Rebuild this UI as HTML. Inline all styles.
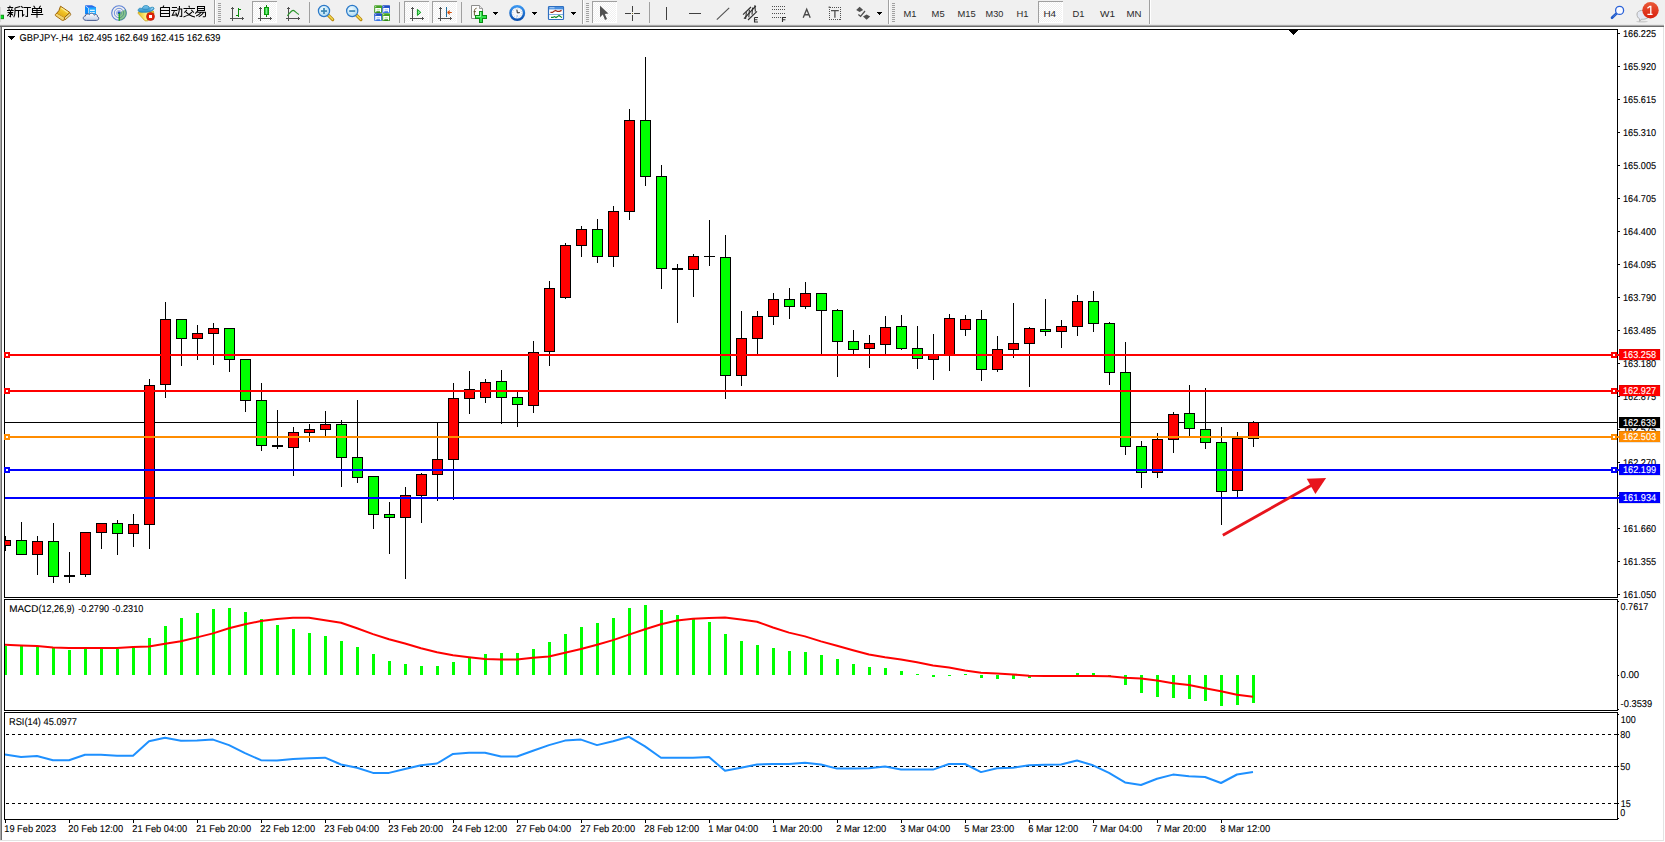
<!DOCTYPE html>
<html><head><meta charset="utf-8"><title>GBPJPY H4</title>
<style>
html,body{margin:0;padding:0;background:#fff;overflow:hidden}
body{width:1665px;height:842px;font-family:"Liberation Sans",sans-serif}
svg{display:block}
</style></head><body>
<svg width="1665" height="842" viewBox="0 0 1665 842">
<g shape-rendering="crispEdges">
<rect x="0" y="0" width="1665" height="24" fill="#f0f0f0"/>
<rect x="0" y="24" width="1664" height="1" fill="#e6e6e6"/>
<rect x="0" y="25" width="1664" height="1" fill="#a9a9a9"/>
<rect x="0" y="26" width="1664" height="1" fill="#6b6b6b"/>
<rect x="0" y="27" width="1" height="813" fill="#a8a8a8"/>
<rect x="1" y="27" width="1" height="813" fill="#6c6c6c"/>
<rect x="0" y="840" width="1664" height="1" fill="#e3e3e3"/>
<rect x="1663" y="27" width="1" height="814" fill="#e3e3e3"/>
<rect x="4" y="29" width="1" height="569" fill="#000"/>
<rect x="4" y="599" width="1" height="112" fill="#000"/>
<rect x="4" y="712" width="1" height="108" fill="#000"/>
<rect x="1617" y="29" width="1" height="569" fill="#000"/>
<rect x="1617" y="599" width="1" height="112" fill="#000"/>
<rect x="1617" y="712" width="1" height="108" fill="#000"/>
<rect x="4" y="29" width="1614" height="1" fill="#000"/>
<rect x="4" y="597" width="1614" height="1" fill="#000"/>
<rect x="4" y="599" width="1614" height="1" fill="#000"/>
<rect x="4" y="710" width="1614" height="1" fill="#000"/>
<rect x="4" y="712" width="1614" height="1" fill="#000"/>
<rect x="4" y="819" width="1614" height="1" fill="#000"/>
<rect x="5" y="422" width="1612" height="1" fill="#000"/>
<rect x="5" y="536" width="1" height="15" fill="#000"/>
<rect x="5" y="540" width="6" height="6" fill="#000"/>
<rect x="5" y="541" width="5" height="4" fill="#ff0000"/>
<rect x="21" y="522" width="1" height="33" fill="#000"/>
<rect x="16" y="540" width="11" height="15" fill="#000"/>
<rect x="17" y="541" width="9" height="13" fill="#00ff00"/>
<rect x="37" y="536" width="1" height="39" fill="#000"/>
<rect x="32" y="541" width="11" height="14" fill="#000"/>
<rect x="33" y="542" width="9" height="12" fill="#ff0000"/>
<rect x="53" y="523" width="1" height="60" fill="#000"/>
<rect x="48" y="541" width="11" height="36" fill="#000"/>
<rect x="49" y="542" width="9" height="34" fill="#00ff00"/>
<rect x="69" y="552" width="1" height="31" fill="#000"/>
<rect x="64" y="575" width="11" height="2" fill="#000"/>
<rect x="85" y="532" width="1" height="45" fill="#000"/>
<rect x="80" y="532" width="11" height="43" fill="#000"/>
<rect x="81" y="533" width="9" height="41" fill="#ff0000"/>
<rect x="101" y="523" width="1" height="26" fill="#000"/>
<rect x="96" y="523" width="11" height="10" fill="#000"/>
<rect x="97" y="524" width="9" height="8" fill="#ff0000"/>
<rect x="117" y="520" width="1" height="35" fill="#000"/>
<rect x="112" y="523" width="11" height="11" fill="#000"/>
<rect x="113" y="524" width="9" height="9" fill="#00ff00"/>
<rect x="133" y="514" width="1" height="33" fill="#000"/>
<rect x="128" y="524" width="11" height="10" fill="#000"/>
<rect x="129" y="525" width="9" height="8" fill="#ff0000"/>
<rect x="149" y="379" width="1" height="170" fill="#000"/>
<rect x="144" y="385" width="11" height="140" fill="#000"/>
<rect x="145" y="386" width="9" height="138" fill="#ff0000"/>
<rect x="165" y="302" width="1" height="96" fill="#000"/>
<rect x="160" y="319" width="11" height="66" fill="#000"/>
<rect x="161" y="320" width="9" height="64" fill="#ff0000"/>
<rect x="181" y="319" width="1" height="47" fill="#000"/>
<rect x="176" y="319" width="11" height="20" fill="#000"/>
<rect x="177" y="320" width="9" height="18" fill="#00ff00"/>
<rect x="197" y="325" width="1" height="35" fill="#000"/>
<rect x="192" y="333" width="11" height="6" fill="#000"/>
<rect x="193" y="334" width="9" height="4" fill="#ff0000"/>
<rect x="213" y="323" width="1" height="42" fill="#000"/>
<rect x="208" y="328" width="11" height="6" fill="#000"/>
<rect x="209" y="329" width="9" height="4" fill="#ff0000"/>
<rect x="229" y="328" width="1" height="44" fill="#000"/>
<rect x="224" y="328" width="11" height="32" fill="#000"/>
<rect x="225" y="329" width="9" height="30" fill="#00ff00"/>
<rect x="245" y="359" width="1" height="53" fill="#000"/>
<rect x="240" y="359" width="11" height="42" fill="#000"/>
<rect x="241" y="360" width="9" height="40" fill="#00ff00"/>
<rect x="261" y="383" width="1" height="68" fill="#000"/>
<rect x="256" y="400" width="11" height="46" fill="#000"/>
<rect x="257" y="401" width="9" height="44" fill="#00ff00"/>
<rect x="277" y="410" width="1" height="39" fill="#000"/>
<rect x="272" y="445" width="11" height="2" fill="#000"/>
<rect x="293" y="427" width="1" height="49" fill="#000"/>
<rect x="288" y="432" width="11" height="16" fill="#000"/>
<rect x="289" y="433" width="9" height="14" fill="#ff0000"/>
<rect x="309" y="424" width="1" height="18" fill="#000"/>
<rect x="304" y="429" width="11" height="4" fill="#000"/>
<rect x="305" y="430" width="9" height="2" fill="#ff0000"/>
<rect x="325" y="411" width="1" height="25" fill="#000"/>
<rect x="320" y="424" width="11" height="6" fill="#000"/>
<rect x="321" y="425" width="9" height="4" fill="#ff0000"/>
<rect x="341" y="420" width="1" height="67" fill="#000"/>
<rect x="336" y="424" width="11" height="34" fill="#000"/>
<rect x="337" y="425" width="9" height="32" fill="#00ff00"/>
<rect x="357" y="400" width="1" height="83" fill="#000"/>
<rect x="352" y="457" width="11" height="21" fill="#000"/>
<rect x="353" y="458" width="9" height="19" fill="#00ff00"/>
<rect x="373" y="476" width="1" height="53" fill="#000"/>
<rect x="368" y="476" width="11" height="39" fill="#000"/>
<rect x="369" y="477" width="9" height="37" fill="#00ff00"/>
<rect x="389" y="502" width="1" height="52" fill="#000"/>
<rect x="384" y="514" width="11" height="4" fill="#000"/>
<rect x="385" y="515" width="9" height="2" fill="#00ff00"/>
<rect x="405" y="487" width="1" height="92" fill="#000"/>
<rect x="400" y="495" width="11" height="23" fill="#000"/>
<rect x="401" y="496" width="9" height="21" fill="#ff0000"/>
<rect x="421" y="473" width="1" height="50" fill="#000"/>
<rect x="416" y="474" width="11" height="22" fill="#000"/>
<rect x="417" y="475" width="9" height="20" fill="#ff0000"/>
<rect x="437" y="423" width="1" height="78" fill="#000"/>
<rect x="432" y="459" width="11" height="16" fill="#000"/>
<rect x="433" y="460" width="9" height="14" fill="#ff0000"/>
<rect x="453" y="383" width="1" height="117" fill="#000"/>
<rect x="448" y="398" width="11" height="62" fill="#000"/>
<rect x="449" y="399" width="9" height="60" fill="#ff0000"/>
<rect x="469" y="371" width="1" height="43" fill="#000"/>
<rect x="464" y="389" width="11" height="10" fill="#000"/>
<rect x="465" y="390" width="9" height="8" fill="#ff0000"/>
<rect x="485" y="379" width="1" height="24" fill="#000"/>
<rect x="480" y="382" width="11" height="16" fill="#000"/>
<rect x="481" y="383" width="9" height="14" fill="#ff0000"/>
<rect x="501" y="370" width="1" height="54" fill="#000"/>
<rect x="496" y="381" width="11" height="17" fill="#000"/>
<rect x="497" y="382" width="9" height="15" fill="#00ff00"/>
<rect x="517" y="392" width="1" height="35" fill="#000"/>
<rect x="512" y="397" width="11" height="8" fill="#000"/>
<rect x="513" y="398" width="9" height="6" fill="#00ff00"/>
<rect x="533" y="341" width="1" height="72" fill="#000"/>
<rect x="528" y="352" width="11" height="54" fill="#000"/>
<rect x="529" y="353" width="9" height="52" fill="#ff0000"/>
<rect x="549" y="281" width="1" height="85" fill="#000"/>
<rect x="544" y="288" width="11" height="64" fill="#000"/>
<rect x="545" y="289" width="9" height="62" fill="#ff0000"/>
<rect x="565" y="243" width="1" height="56" fill="#000"/>
<rect x="560" y="245" width="11" height="53" fill="#000"/>
<rect x="561" y="246" width="9" height="51" fill="#ff0000"/>
<rect x="581" y="226" width="1" height="31" fill="#000"/>
<rect x="576" y="229" width="11" height="17" fill="#000"/>
<rect x="577" y="230" width="9" height="15" fill="#ff0000"/>
<rect x="597" y="219" width="1" height="44" fill="#000"/>
<rect x="592" y="229" width="11" height="28" fill="#000"/>
<rect x="593" y="230" width="9" height="26" fill="#00ff00"/>
<rect x="613" y="206" width="1" height="61" fill="#000"/>
<rect x="608" y="211" width="11" height="46" fill="#000"/>
<rect x="609" y="212" width="9" height="44" fill="#ff0000"/>
<rect x="629" y="109" width="1" height="111" fill="#000"/>
<rect x="624" y="120" width="11" height="92" fill="#000"/>
<rect x="625" y="121" width="9" height="90" fill="#ff0000"/>
<rect x="645" y="57" width="1" height="129" fill="#000"/>
<rect x="640" y="120" width="11" height="57" fill="#000"/>
<rect x="641" y="121" width="9" height="55" fill="#00ff00"/>
<rect x="661" y="165" width="1" height="124" fill="#000"/>
<rect x="656" y="176" width="11" height="93" fill="#000"/>
<rect x="657" y="177" width="9" height="91" fill="#00ff00"/>
<rect x="677" y="264" width="1" height="59" fill="#000"/>
<rect x="672" y="268" width="11" height="2" fill="#000"/>
<rect x="693" y="254" width="1" height="43" fill="#000"/>
<rect x="688" y="256" width="11" height="14" fill="#000"/>
<rect x="689" y="257" width="9" height="12" fill="#ff0000"/>
<rect x="709" y="220" width="1" height="46" fill="#000"/>
<rect x="704" y="256" width="11" height="1" fill="#000"/>
<rect x="725" y="235" width="1" height="164" fill="#000"/>
<rect x="720" y="257" width="11" height="119" fill="#000"/>
<rect x="721" y="258" width="9" height="117" fill="#00ff00"/>
<rect x="741" y="311" width="1" height="75" fill="#000"/>
<rect x="736" y="338" width="11" height="38" fill="#000"/>
<rect x="737" y="339" width="9" height="36" fill="#ff0000"/>
<rect x="757" y="311" width="1" height="43" fill="#000"/>
<rect x="752" y="316" width="11" height="23" fill="#000"/>
<rect x="753" y="317" width="9" height="21" fill="#ff0000"/>
<rect x="773" y="293" width="1" height="32" fill="#000"/>
<rect x="768" y="299" width="11" height="18" fill="#000"/>
<rect x="769" y="300" width="9" height="16" fill="#ff0000"/>
<rect x="789" y="288" width="1" height="31" fill="#000"/>
<rect x="784" y="299" width="11" height="8" fill="#000"/>
<rect x="785" y="300" width="9" height="6" fill="#00ff00"/>
<rect x="805" y="282" width="1" height="27" fill="#000"/>
<rect x="800" y="293" width="11" height="14" fill="#000"/>
<rect x="801" y="294" width="9" height="12" fill="#ff0000"/>
<rect x="821" y="293" width="1" height="63" fill="#000"/>
<rect x="816" y="293" width="11" height="18" fill="#000"/>
<rect x="817" y="294" width="9" height="16" fill="#00ff00"/>
<rect x="837" y="309" width="1" height="68" fill="#000"/>
<rect x="832" y="310" width="11" height="32" fill="#000"/>
<rect x="833" y="311" width="9" height="30" fill="#00ff00"/>
<rect x="853" y="330" width="1" height="26" fill="#000"/>
<rect x="848" y="341" width="11" height="9" fill="#000"/>
<rect x="849" y="342" width="9" height="7" fill="#00ff00"/>
<rect x="869" y="335" width="1" height="33" fill="#000"/>
<rect x="864" y="343" width="11" height="6" fill="#000"/>
<rect x="865" y="344" width="9" height="4" fill="#ff0000"/>
<rect x="885" y="316" width="1" height="40" fill="#000"/>
<rect x="880" y="327" width="11" height="18" fill="#000"/>
<rect x="881" y="328" width="9" height="16" fill="#ff0000"/>
<rect x="901" y="315" width="1" height="35" fill="#000"/>
<rect x="896" y="326" width="11" height="23" fill="#000"/>
<rect x="897" y="327" width="9" height="21" fill="#00ff00"/>
<rect x="917" y="326" width="1" height="43" fill="#000"/>
<rect x="912" y="348" width="11" height="11" fill="#000"/>
<rect x="913" y="349" width="9" height="9" fill="#00ff00"/>
<rect x="933" y="334" width="1" height="46" fill="#000"/>
<rect x="928" y="354" width="11" height="6" fill="#000"/>
<rect x="929" y="355" width="9" height="4" fill="#ff0000"/>
<rect x="949" y="314" width="1" height="57" fill="#000"/>
<rect x="944" y="318" width="11" height="37" fill="#000"/>
<rect x="945" y="319" width="9" height="35" fill="#ff0000"/>
<rect x="965" y="315" width="1" height="21" fill="#000"/>
<rect x="960" y="319" width="11" height="11" fill="#000"/>
<rect x="961" y="320" width="9" height="9" fill="#ff0000"/>
<rect x="981" y="310" width="1" height="71" fill="#000"/>
<rect x="976" y="319" width="11" height="51" fill="#000"/>
<rect x="977" y="320" width="9" height="49" fill="#00ff00"/>
<rect x="997" y="336" width="1" height="36" fill="#000"/>
<rect x="992" y="349" width="11" height="21" fill="#000"/>
<rect x="993" y="350" width="9" height="19" fill="#ff0000"/>
<rect x="1013" y="303" width="1" height="55" fill="#000"/>
<rect x="1008" y="343" width="11" height="7" fill="#000"/>
<rect x="1009" y="344" width="9" height="5" fill="#ff0000"/>
<rect x="1029" y="327" width="1" height="60" fill="#000"/>
<rect x="1024" y="328" width="11" height="16" fill="#000"/>
<rect x="1025" y="329" width="9" height="14" fill="#ff0000"/>
<rect x="1045" y="299" width="1" height="37" fill="#000"/>
<rect x="1040" y="329" width="11" height="3" fill="#000"/>
<rect x="1041" y="330" width="9" height="1" fill="#00ff00"/>
<rect x="1061" y="320" width="1" height="28" fill="#000"/>
<rect x="1056" y="326" width="11" height="6" fill="#000"/>
<rect x="1057" y="327" width="9" height="4" fill="#ff0000"/>
<rect x="1077" y="295" width="1" height="41" fill="#000"/>
<rect x="1072" y="301" width="11" height="26" fill="#000"/>
<rect x="1073" y="302" width="9" height="24" fill="#ff0000"/>
<rect x="1093" y="291" width="1" height="41" fill="#000"/>
<rect x="1088" y="301" width="11" height="23" fill="#000"/>
<rect x="1089" y="302" width="9" height="21" fill="#00ff00"/>
<rect x="1109" y="322" width="1" height="63" fill="#000"/>
<rect x="1104" y="323" width="11" height="50" fill="#000"/>
<rect x="1105" y="324" width="9" height="48" fill="#00ff00"/>
<rect x="1125" y="342" width="1" height="113" fill="#000"/>
<rect x="1120" y="372" width="11" height="75" fill="#000"/>
<rect x="1121" y="373" width="9" height="73" fill="#00ff00"/>
<rect x="1141" y="441" width="1" height="47" fill="#000"/>
<rect x="1136" y="446" width="11" height="27" fill="#000"/>
<rect x="1137" y="447" width="9" height="25" fill="#00ff00"/>
<rect x="1157" y="433" width="1" height="45" fill="#000"/>
<rect x="1152" y="439" width="11" height="34" fill="#000"/>
<rect x="1153" y="440" width="9" height="32" fill="#ff0000"/>
<rect x="1173" y="412" width="1" height="41" fill="#000"/>
<rect x="1168" y="414" width="11" height="26" fill="#000"/>
<rect x="1169" y="415" width="9" height="24" fill="#ff0000"/>
<rect x="1189" y="385" width="1" height="51" fill="#000"/>
<rect x="1184" y="413" width="11" height="16" fill="#000"/>
<rect x="1185" y="414" width="9" height="14" fill="#00ff00"/>
<rect x="1205" y="388" width="1" height="61" fill="#000"/>
<rect x="1200" y="429" width="11" height="14" fill="#000"/>
<rect x="1201" y="430" width="9" height="12" fill="#00ff00"/>
<rect x="1221" y="427" width="1" height="98" fill="#000"/>
<rect x="1216" y="442" width="11" height="50" fill="#000"/>
<rect x="1217" y="443" width="9" height="48" fill="#00ff00"/>
<rect x="1237" y="432" width="1" height="66" fill="#000"/>
<rect x="1232" y="438" width="11" height="53" fill="#000"/>
<rect x="1233" y="439" width="9" height="51" fill="#ff0000"/>
<rect x="1253" y="421" width="1" height="26" fill="#000"/>
<rect x="1248" y="422" width="11" height="17" fill="#000"/>
<rect x="1249" y="423" width="9" height="15" fill="#ff0000"/>
<rect x="5" y="354" width="1614" height="2" fill="#ff0000"/>
<rect x="4" y="352" width="6" height="6" fill="#ff0000"/>
<rect x="6" y="354" width="2" height="2" fill="#fff"/>
<rect x="1611" y="352" width="6" height="6" fill="#ff0000"/>
<rect x="1613" y="354" width="2" height="2" fill="#fff"/>
<rect x="5" y="390" width="1614" height="2" fill="#ff0000"/>
<rect x="4" y="388" width="6" height="6" fill="#ff0000"/>
<rect x="6" y="390" width="2" height="2" fill="#fff"/>
<rect x="1611" y="388" width="6" height="6" fill="#ff0000"/>
<rect x="1613" y="390" width="2" height="2" fill="#fff"/>
<rect x="5" y="436" width="1614" height="2" fill="#ff8c00"/>
<rect x="4" y="434" width="6" height="6" fill="#ff8c00"/>
<rect x="6" y="436" width="2" height="2" fill="#fff"/>
<rect x="1611" y="434" width="6" height="6" fill="#ff8c00"/>
<rect x="1613" y="436" width="2" height="2" fill="#fff"/>
<rect x="5" y="469" width="1614" height="2" fill="#0000ff"/>
<rect x="4" y="467" width="6" height="6" fill="#0000ff"/>
<rect x="6" y="469" width="2" height="2" fill="#fff"/>
<rect x="1611" y="467" width="6" height="6" fill="#0000ff"/>
<rect x="1613" y="469" width="2" height="2" fill="#fff"/>
<rect x="5" y="497" width="1614" height="2" fill="#0000ff"/>
<rect x="1289" y="30" width="9" height="1" fill="#000"/>
<rect x="1290" y="31" width="7" height="1" fill="#000"/>
<rect x="1291" y="32" width="5" height="1" fill="#000"/>
<rect x="1292" y="33" width="3" height="1" fill="#000"/>
<rect x="1293" y="34" width="1" height="1" fill="#000"/>
<rect x="8" y="36" width="7" height="1" fill="#000"/>
<rect x="9" y="37" width="5" height="1" fill="#000"/>
<rect x="10" y="38" width="3" height="1" fill="#000"/>
<rect x="11" y="39" width="1" height="1" fill="#000"/>
<rect x="5" y="646" width="2" height="29" fill="#00ff00"/>
<rect x="20" y="646" width="3" height="29" fill="#00ff00"/>
<rect x="36" y="646" width="3" height="29" fill="#00ff00"/>
<rect x="52" y="648" width="3" height="27" fill="#00ff00"/>
<rect x="68" y="650" width="3" height="25" fill="#00ff00"/>
<rect x="84" y="649" width="3" height="26" fill="#00ff00"/>
<rect x="100" y="649" width="3" height="26" fill="#00ff00"/>
<rect x="116" y="649" width="3" height="26" fill="#00ff00"/>
<rect x="132" y="648" width="3" height="27" fill="#00ff00"/>
<rect x="148" y="638" width="3" height="37" fill="#00ff00"/>
<rect x="164" y="626" width="3" height="49" fill="#00ff00"/>
<rect x="180" y="618" width="3" height="57" fill="#00ff00"/>
<rect x="196" y="613" width="3" height="62" fill="#00ff00"/>
<rect x="212" y="609" width="3" height="66" fill="#00ff00"/>
<rect x="228" y="608" width="3" height="67" fill="#00ff00"/>
<rect x="244" y="612" width="3" height="63" fill="#00ff00"/>
<rect x="260" y="619" width="3" height="56" fill="#00ff00"/>
<rect x="276" y="625" width="3" height="50" fill="#00ff00"/>
<rect x="292" y="629" width="3" height="46" fill="#00ff00"/>
<rect x="308" y="633" width="3" height="42" fill="#00ff00"/>
<rect x="324" y="636" width="3" height="39" fill="#00ff00"/>
<rect x="340" y="641" width="3" height="34" fill="#00ff00"/>
<rect x="356" y="647" width="3" height="28" fill="#00ff00"/>
<rect x="372" y="654" width="3" height="21" fill="#00ff00"/>
<rect x="388" y="661" width="3" height="14" fill="#00ff00"/>
<rect x="404" y="664" width="3" height="11" fill="#00ff00"/>
<rect x="420" y="666" width="3" height="9" fill="#00ff00"/>
<rect x="436" y="666" width="3" height="9" fill="#00ff00"/>
<rect x="452" y="662" width="3" height="13" fill="#00ff00"/>
<rect x="468" y="658" width="3" height="17" fill="#00ff00"/>
<rect x="484" y="654" width="3" height="21" fill="#00ff00"/>
<rect x="500" y="653" width="3" height="22" fill="#00ff00"/>
<rect x="516" y="653" width="3" height="22" fill="#00ff00"/>
<rect x="532" y="649" width="3" height="26" fill="#00ff00"/>
<rect x="548" y="642" width="3" height="33" fill="#00ff00"/>
<rect x="564" y="634" width="3" height="41" fill="#00ff00"/>
<rect x="580" y="627" width="3" height="48" fill="#00ff00"/>
<rect x="596" y="623" width="3" height="52" fill="#00ff00"/>
<rect x="612" y="618" width="3" height="57" fill="#00ff00"/>
<rect x="628" y="608" width="3" height="67" fill="#00ff00"/>
<rect x="644" y="605" width="3" height="70" fill="#00ff00"/>
<rect x="660" y="610" width="3" height="65" fill="#00ff00"/>
<rect x="676" y="615" width="3" height="60" fill="#00ff00"/>
<rect x="692" y="619" width="3" height="56" fill="#00ff00"/>
<rect x="708" y="622" width="3" height="53" fill="#00ff00"/>
<rect x="724" y="634" width="3" height="41" fill="#00ff00"/>
<rect x="740" y="641" width="3" height="34" fill="#00ff00"/>
<rect x="756" y="645" width="3" height="30" fill="#00ff00"/>
<rect x="772" y="648" width="3" height="27" fill="#00ff00"/>
<rect x="788" y="651" width="3" height="24" fill="#00ff00"/>
<rect x="804" y="652" width="3" height="23" fill="#00ff00"/>
<rect x="820" y="655" width="3" height="20" fill="#00ff00"/>
<rect x="836" y="659" width="3" height="16" fill="#00ff00"/>
<rect x="852" y="664" width="3" height="11" fill="#00ff00"/>
<rect x="868" y="667" width="3" height="8" fill="#00ff00"/>
<rect x="884" y="668" width="3" height="7" fill="#00ff00"/>
<rect x="900" y="671" width="3" height="4" fill="#00ff00"/>
<rect x="916" y="674" width="3" height="1" fill="#00ff00"/>
<rect x="932" y="675" width="3" height="2" fill="#00ff00"/>
<rect x="948" y="675" width="3" height="1" fill="#00ff00"/>
<rect x="964" y="674" width="3" height="1" fill="#00ff00"/>
<rect x="980" y="675" width="3" height="3" fill="#00ff00"/>
<rect x="996" y="675" width="3" height="4" fill="#00ff00"/>
<rect x="1012" y="675" width="3" height="4" fill="#00ff00"/>
<rect x="1028" y="675" width="3" height="3" fill="#00ff00"/>
<rect x="1044" y="675" width="3" height="1" fill="#00ff00"/>
<rect x="1060" y="675" width="3" height="1" fill="#00ff00"/>
<rect x="1076" y="673" width="3" height="2" fill="#00ff00"/>
<rect x="1092" y="673" width="3" height="2" fill="#00ff00"/>
<rect x="1108" y="675" width="3" height="1" fill="#00ff00"/>
<rect x="1124" y="675" width="3" height="10" fill="#00ff00"/>
<rect x="1140" y="675" width="3" height="18" fill="#00ff00"/>
<rect x="1156" y="675" width="3" height="22" fill="#00ff00"/>
<rect x="1172" y="675" width="3" height="23" fill="#00ff00"/>
<rect x="1188" y="675" width="3" height="24" fill="#00ff00"/>
<rect x="1204" y="675" width="3" height="26" fill="#00ff00"/>
<rect x="1220" y="675" width="3" height="31" fill="#00ff00"/>
<rect x="1236" y="675" width="3" height="30" fill="#00ff00"/>
<rect x="1252" y="675" width="3" height="28" fill="#00ff00"/>
<path d="M6 734.5H1617" stroke="#000" stroke-width="1" stroke-dasharray="3 3" fill="none"/>
<path d="M6 766.5H1617" stroke="#000" stroke-width="1" stroke-dasharray="3 3" fill="none"/>
<path d="M6 803.5H1617" stroke="#000" stroke-width="1" stroke-dasharray="3 3" fill="none"/>
<rect x="1618" y="33" width="2" height="1" fill="#000"/>
<rect x="1618" y="66" width="2" height="1" fill="#000"/>
<rect x="1618" y="99" width="2" height="1" fill="#000"/>
<rect x="1618" y="132" width="2" height="1" fill="#000"/>
<rect x="1618" y="165" width="2" height="1" fill="#000"/>
<rect x="1618" y="198" width="2" height="1" fill="#000"/>
<rect x="1618" y="231" width="2" height="1" fill="#000"/>
<rect x="1618" y="264" width="2" height="1" fill="#000"/>
<rect x="1618" y="297" width="2" height="1" fill="#000"/>
<rect x="1618" y="330" width="2" height="1" fill="#000"/>
<rect x="1618" y="363" width="2" height="1" fill="#000"/>
<rect x="1618" y="396" width="2" height="1" fill="#000"/>
<rect x="1618" y="429" width="2" height="1" fill="#000"/>
<rect x="1618" y="462" width="2" height="1" fill="#000"/>
<rect x="1618" y="495" width="2" height="1" fill="#000"/>
<rect x="1618" y="528" width="2" height="1" fill="#000"/>
<rect x="1618" y="561" width="2" height="1" fill="#000"/>
<rect x="1618" y="594" width="2" height="1" fill="#000"/>
<rect x="1618" y="601" width="1" height="1" fill="#000"/>
<rect x="1618" y="675" width="1" height="1" fill="#000"/>
<rect x="1618" y="709" width="1" height="1" fill="#000"/>
<rect x="1618" y="714" width="1" height="1" fill="#000"/>
<rect x="1618" y="734" width="1" height="1" fill="#000"/>
<rect x="1618" y="766" width="1" height="1" fill="#000"/>
<rect x="1618" y="803" width="1" height="1" fill="#000"/>
<rect x="1618" y="818" width="1" height="1" fill="#000"/>
<rect x="5" y="820" width="1" height="3" fill="#000"/>
<rect x="69" y="820" width="1" height="3" fill="#000"/>
<rect x="133" y="820" width="1" height="3" fill="#000"/>
<rect x="197" y="820" width="1" height="3" fill="#000"/>
<rect x="261" y="820" width="1" height="3" fill="#000"/>
<rect x="325" y="820" width="1" height="3" fill="#000"/>
<rect x="389" y="820" width="1" height="3" fill="#000"/>
<rect x="453" y="820" width="1" height="3" fill="#000"/>
<rect x="517" y="820" width="1" height="3" fill="#000"/>
<rect x="581" y="820" width="1" height="3" fill="#000"/>
<rect x="645" y="820" width="1" height="3" fill="#000"/>
<rect x="709" y="820" width="1" height="3" fill="#000"/>
<rect x="773" y="820" width="1" height="3" fill="#000"/>
<rect x="837" y="820" width="1" height="3" fill="#000"/>
<rect x="901" y="820" width="1" height="3" fill="#000"/>
<rect x="965" y="820" width="1" height="3" fill="#000"/>
<rect x="1029" y="820" width="1" height="3" fill="#000"/>
<rect x="1093" y="820" width="1" height="3" fill="#000"/>
<rect x="1157" y="820" width="1" height="3" fill="#000"/>
<rect x="1221" y="820" width="1" height="3" fill="#000"/>
</g>
<polyline points="5,644.7 21,645.5 37,646.0 53,647.5 69,648.0 85,648.0 101,648.0 117,648.0 133,647.0 149,646.5 165,643.7 181,641.2 197,637.4 213,633.4 229,628.3 245,624.3 261,621.0 277,619.0 293,617.7 309,617.7 325,620.3 341,622.8 357,628.3 373,634.1 389,639.2 405,643.5 421,648.2 437,652.3 453,655.3 469,657.3 485,659.0 501,659.6 517,659.6 533,657.8 549,656.5 565,652.8 581,649.0 597,644.7 613,640.1 629,634.6 645,629.3 661,624.3 677,620.5 693,618.7 709,617.9 725,617.4 741,619.5 757,621.7 773,627.5 789,632.6 805,636.4 821,641.4 837,645.7 853,650.2 869,654.5 885,657.3 901,659.6 917,662.3 933,665.4 949,667.6 965,670.4 981,672.7 997,673.4 1013,674.5 1029,675.7 1045,676.0 1061,676.0 1077,676.0 1093,676.0 1109,676.2 1125,677.8 1141,678.6 1157,680.4 1173,683.2 1189,684.9 1205,688.2 1221,691.2 1237,694.8 1253,696.8" fill="none" stroke="#ff0000" stroke-width="2" stroke-linejoin="round"/>
<polyline points="5,754.4 21,757.0 37,756.0 53,760.2 69,760.2 85,754.7 101,754.7 117,755.7 133,755.7 149,741.3 165,737.8 181,740.8 197,740.6 213,739.6 229,745.1 245,753.2 261,760.2 277,760.5 293,759.0 309,758.2 325,757.7 341,764.5 357,767.8 373,772.9 389,772.9 405,769.0 421,765.3 437,763.5 453,753.9 469,752.7 485,752.7 501,756.5 517,756.5 533,750.7 549,745.1 565,740.6 581,739.6 597,745.1 613,741.3 629,736.8 645,746.4 661,757.7 677,757.7 693,757.7 709,757.0 725,770.8 741,767.8 757,764.5 773,764.0 789,764.0 805,762.8 821,764.5 837,768.6 853,768.6 869,768.3 885,766.5 901,769.6 917,769.6 933,769.6 949,764.0 965,764.0 981,772.1 997,768.3 1013,767.8 1029,765.3 1045,764.8 1061,764.5 1077,760.5 1093,765.3 1109,772.9 1125,782.4 1141,785.0 1157,778.7 1173,774.6 1189,776.2 1205,777.0 1221,783.0 1237,774.5 1253,772.1" fill="none" stroke="#1e90ff" stroke-width="2" stroke-linejoin="round"/>
<line x1="1222.8" y1="535.3" x2="1312" y2="485" stroke="#e8141c" stroke-width="2.8"/>
<polygon points="1326.1,478 1306.7,478.7 1315.4,494" fill="#e8141c"/>
<g font-family="Liberation Sans, sans-serif" font-size="9.9" text-rendering="geometricPrecision" stroke="#000" stroke-width="0.1">
<text x="1623" y="36.6" font-size="9.9" fill="#000" textLength="33.1" lengthAdjust="spacingAndGlyphs" >166.225</text>
<text x="1623" y="69.6" font-size="9.9" fill="#000" textLength="33.1" lengthAdjust="spacingAndGlyphs" >165.920</text>
<text x="1623" y="102.6" font-size="9.9" fill="#000" textLength="33.1" lengthAdjust="spacingAndGlyphs" >165.615</text>
<text x="1623" y="135.6" font-size="9.9" fill="#000" textLength="33.1" lengthAdjust="spacingAndGlyphs" >165.310</text>
<text x="1623" y="168.6" font-size="9.9" fill="#000" textLength="33.1" lengthAdjust="spacingAndGlyphs" >165.005</text>
<text x="1623" y="201.6" font-size="9.9" fill="#000" textLength="33.1" lengthAdjust="spacingAndGlyphs" >164.705</text>
<text x="1623" y="234.6" font-size="9.9" fill="#000" textLength="33.1" lengthAdjust="spacingAndGlyphs" >164.400</text>
<text x="1623" y="267.6" font-size="9.9" fill="#000" textLength="33.1" lengthAdjust="spacingAndGlyphs" >164.095</text>
<text x="1623" y="300.6" font-size="9.9" fill="#000" textLength="33.1" lengthAdjust="spacingAndGlyphs" >163.790</text>
<text x="1623" y="333.6" font-size="9.9" fill="#000" textLength="33.1" lengthAdjust="spacingAndGlyphs" >163.485</text>
<text x="1623" y="366.6" font-size="9.9" fill="#000" textLength="33.1" lengthAdjust="spacingAndGlyphs" >163.180</text>
<text x="1623" y="399.6" font-size="9.9" fill="#000" textLength="33.1" lengthAdjust="spacingAndGlyphs" >162.875</text>
<text x="1623" y="432.6" font-size="9.9" fill="#000" textLength="33.1" lengthAdjust="spacingAndGlyphs" >162.575</text>
<text x="1623" y="465.6" font-size="9.9" fill="#000" textLength="33.1" lengthAdjust="spacingAndGlyphs" >162.270</text>
<text x="1623" y="498.6" font-size="9.9" fill="#000" textLength="33.1" lengthAdjust="spacingAndGlyphs" >161.965</text>
<text x="1623" y="531.6" font-size="9.9" fill="#000" textLength="33.1" lengthAdjust="spacingAndGlyphs" >161.660</text>
<text x="1623" y="564.6" font-size="9.9" fill="#000" textLength="33.1" lengthAdjust="spacingAndGlyphs" >161.355</text>
<text x="1623" y="597.6" font-size="9.9" fill="#000" textLength="33.1" lengthAdjust="spacingAndGlyphs" >161.050</text>
<g shape-rendering="crispEdges">
<rect x="1619" y="349" width="41" height="11" fill="#ff0000"/>
<rect x="1619" y="385" width="41" height="11" fill="#ff0000"/>
<rect x="1619" y="417" width="41" height="11" fill="#000000"/>
<rect x="1619" y="431" width="41" height="11" fill="#ff8c00"/>
<rect x="1619" y="464" width="41" height="11" fill="#0000ff"/>
<rect x="1619" y="492" width="41" height="11" fill="#0000ff"/>
</g>
<text x="1623" y="357.6" font-size="9.9" fill="#fff" textLength="33.1" lengthAdjust="spacingAndGlyphs" stroke="#fff">163.258</text>
<text x="1623" y="393.6" font-size="9.9" fill="#fff" textLength="33.1" lengthAdjust="spacingAndGlyphs" stroke="#fff">162.927</text>
<text x="1623" y="425.6" font-size="9.9" fill="#fff" textLength="33.1" lengthAdjust="spacingAndGlyphs" stroke="#fff">162.639</text>
<text x="1623" y="439.6" font-size="9.9" fill="#fff" textLength="33.1" lengthAdjust="spacingAndGlyphs" stroke="#fff">162.503</text>
<text x="1623" y="472.6" font-size="9.9" fill="#fff" textLength="33.1" lengthAdjust="spacingAndGlyphs" stroke="#fff">162.199</text>
<text x="1623" y="500.6" font-size="9.9" fill="#fff" textLength="33.1" lengthAdjust="spacingAndGlyphs" stroke="#fff">161.934</text>
<text x="1620.6" y="609.5" font-size="9.9" fill="#000" textLength="27.6" lengthAdjust="spacingAndGlyphs" >0.7617</text>
<text x="1620.6" y="678.2" font-size="9.9" fill="#000" textLength="18.6" lengthAdjust="spacingAndGlyphs" >0.00</text>
<text x="1620.6" y="706.6" font-size="9.9" fill="#000" textLength="31.6" lengthAdjust="spacingAndGlyphs" >-0.3539</text>
<text x="1620.8" y="722.6" font-size="9.9" fill="#000" textLength="15" lengthAdjust="spacingAndGlyphs" >100</text>
<text x="1620.3" y="738" font-size="9.9" fill="#000" textLength="10" lengthAdjust="spacingAndGlyphs" >80</text>
<text x="1620.3" y="770" font-size="9.9" fill="#000" textLength="10" lengthAdjust="spacingAndGlyphs" >50</text>
<text x="1620.8" y="807" font-size="9.9" fill="#000" textLength="10" lengthAdjust="spacingAndGlyphs" >15</text>
<text x="1620.3" y="816" font-size="9.9" fill="#000" textLength="5" lengthAdjust="spacingAndGlyphs" >0</text>
<text x="4.3" y="832" font-size="9.9" fill="#000" textLength="51.8" lengthAdjust="spacingAndGlyphs" >19 Feb 2023</text>
<text x="68.3" y="832" font-size="9.9" fill="#000" textLength="54.8" lengthAdjust="spacingAndGlyphs" >20 Feb 12:00</text>
<text x="132.3" y="832" font-size="9.9" fill="#000" textLength="54.8" lengthAdjust="spacingAndGlyphs" >21 Feb 04:00</text>
<text x="196.3" y="832" font-size="9.9" fill="#000" textLength="54.8" lengthAdjust="spacingAndGlyphs" >21 Feb 20:00</text>
<text x="260.3" y="832" font-size="9.9" fill="#000" textLength="54.8" lengthAdjust="spacingAndGlyphs" >22 Feb 12:00</text>
<text x="324.3" y="832" font-size="9.9" fill="#000" textLength="54.8" lengthAdjust="spacingAndGlyphs" >23 Feb 04:00</text>
<text x="388.3" y="832" font-size="9.9" fill="#000" textLength="54.8" lengthAdjust="spacingAndGlyphs" >23 Feb 20:00</text>
<text x="452.3" y="832" font-size="9.9" fill="#000" textLength="54.8" lengthAdjust="spacingAndGlyphs" >24 Feb 12:00</text>
<text x="516.3" y="832" font-size="9.9" fill="#000" textLength="54.8" lengthAdjust="spacingAndGlyphs" >27 Feb 04:00</text>
<text x="580.3" y="832" font-size="9.9" fill="#000" textLength="54.8" lengthAdjust="spacingAndGlyphs" >27 Feb 20:00</text>
<text x="644.3" y="832" font-size="9.9" fill="#000" textLength="54.8" lengthAdjust="spacingAndGlyphs" >28 Feb 12:00</text>
<text x="708.3" y="832" font-size="9.9" fill="#000" textLength="50" lengthAdjust="spacingAndGlyphs" >1 Mar 04:00</text>
<text x="772.3" y="832" font-size="9.9" fill="#000" textLength="50" lengthAdjust="spacingAndGlyphs" >1 Mar 20:00</text>
<text x="836.3" y="832" font-size="9.9" fill="#000" textLength="50" lengthAdjust="spacingAndGlyphs" >2 Mar 12:00</text>
<text x="900.3" y="832" font-size="9.9" fill="#000" textLength="50" lengthAdjust="spacingAndGlyphs" >3 Mar 04:00</text>
<text x="964.3" y="832" font-size="9.9" fill="#000" textLength="50" lengthAdjust="spacingAndGlyphs" >5 Mar 23:00</text>
<text x="1028.3" y="832" font-size="9.9" fill="#000" textLength="50" lengthAdjust="spacingAndGlyphs" >6 Mar 12:00</text>
<text x="1092.3" y="832" font-size="9.9" fill="#000" textLength="50" lengthAdjust="spacingAndGlyphs" >7 Mar 04:00</text>
<text x="1156.3" y="832" font-size="9.9" fill="#000" textLength="50" lengthAdjust="spacingAndGlyphs" >7 Mar 20:00</text>
<text x="1220.3" y="832" font-size="9.9" fill="#000" textLength="50" lengthAdjust="spacingAndGlyphs" >8 Mar 12:00</text>
<text x="19.6" y="41" font-size="9.9" fill="#000" textLength="53.6" lengthAdjust="spacingAndGlyphs" >GBPJPY-,H4</text>
<text x="78.5" y="41" font-size="9.9" fill="#000" textLength="33.6" lengthAdjust="spacingAndGlyphs" >162.495</text>
<text x="114.6" y="41" font-size="9.9" fill="#000" textLength="33.6" lengthAdjust="spacingAndGlyphs" >162.649</text>
<text x="150.7" y="41" font-size="9.9" fill="#000" textLength="33.6" lengthAdjust="spacingAndGlyphs" >162.415</text>
<text x="186.8" y="41" font-size="9.9" fill="#000" textLength="33.6" lengthAdjust="spacingAndGlyphs" >162.639</text>
<text x="9.2" y="612" font-size="9.9" fill="#000" textLength="29.2" lengthAdjust="spacingAndGlyphs" >MACD</text>
<text x="38.6" y="612" font-size="9.9" fill="#000" textLength="36" lengthAdjust="spacingAndGlyphs" >(12,26,9)</text>
<text x="78.2" y="612" font-size="9.9" fill="#000" textLength="30.8" lengthAdjust="spacingAndGlyphs" >-0.2790</text>
<text x="112.3" y="612" font-size="9.9" fill="#000" textLength="31" lengthAdjust="spacingAndGlyphs" >-0.2310</text>
<text x="9" y="725" font-size="9.9" fill="#000" textLength="68" lengthAdjust="spacingAndGlyphs" >RSI(14) 45.0977</text>
</g>
<defs>
<pattern id="chk" width="2" height="2" patternUnits="userSpaceOnUse"><rect width="2" height="2" fill="#f0f0f0"/><rect width="1" height="1" fill="#fff"/><rect x="1" y="1" width="1" height="1" fill="#fff"/></pattern>
<linearGradient id="gold" x1="0.8" y1="0" x2="0.2" y2="1"><stop offset="0" stop-color="#fff08a"/><stop offset="0.5" stop-color="#f0c428"/><stop offset="1" stop-color="#dca010"/></linearGradient>
<linearGradient id="blu" x1="0" y1="0" x2="0" y2="1"><stop offset="0" stop-color="#2a8cff"/><stop offset="1" stop-color="#0a6ae0"/></linearGradient>
<linearGradient id="cloud" x1="0" y1="0" x2="0" y2="1"><stop offset="0" stop-color="#ffffff"/><stop offset="1" stop-color="#c4cfe6"/></linearGradient>
<linearGradient id="badge" x1="0" y1="0" x2="0" y2="1"><stop offset="0" stop-color="#ea5a38"/><stop offset="1" stop-color="#d81e0c"/></linearGradient>
<radialGradient id="lens" cx="0.4" cy="0.35" r="0.7"><stop offset="0" stop-color="#eefaff"/><stop offset="1" stop-color="#a8d8f2"/></radialGradient>
<linearGradient id="grn" x1="0" y1="0" x2="1" y2="0"><stop offset="0" stop-color="#18c828"/><stop offset="0.5" stop-color="#7cf08a"/><stop offset="1" stop-color="#10b020"/></linearGradient>
<linearGradient id="tg" x1="0" y1="0" x2="0" y2="1"><stop offset="0" stop-color="#4aa82a"/><stop offset="1" stop-color="#2f8c14"/></linearGradient>
<linearGradient id="tb" x1="0" y1="0" x2="0" y2="1"><stop offset="0" stop-color="#1c48c0"/><stop offset="1" stop-color="#3a78e8"/></linearGradient>
<linearGradient id="hat" x1="0" y1="0" x2="0" y2="1"><stop offset="0" stop-color="#7cc8ee"/><stop offset="1" stop-color="#2a8cc8"/></linearGradient>
<linearGradient id="yel" x1="0" y1="0" x2="1" y2="0"><stop offset="0" stop-color="#e8c020"/><stop offset="0.5" stop-color="#fff088"/><stop offset="1" stop-color="#e8c020"/></linearGradient>
<linearGradient id="clk" x1="0" y1="0" x2="0" y2="1"><stop offset="0" stop-color="#3a96f0"/><stop offset="1" stop-color="#0a50b0"/></linearGradient>
<linearGradient id="hnd" x1="0" y1="0" x2="1" y2="1"><stop offset="0" stop-color="#f6e060"/><stop offset="1" stop-color="#c89010"/></linearGradient>
</defs>
<rect x="-1" y="15.2" width="4.5" height="3.5" fill="#08e028" stroke="#0a8a0a" stroke-width="0.9"/>
<rect x="0" y="7" width="0.9" height="15" fill="#cfcfcf" opacity=".8"/>
<path d="M9.6 5.8 L10.3 7.2 M7.4 7.5 H13.2 M8.7 8.4 L9.3 10.2 M12.1 8.4 L11.5 10.2 M7 10.5 H13.7 M7.6 12.5 H13.2 M10.5 10.5 V16.8 L9.4 16.3 M10 13.2 L7.3 16.2 M11.2 13.4 L12.9 15.4 M20.3 6.5 L14.9 8.1 M15 8 V12 Q15 15 13.7 17.2 M15 10.5 H21 M18.5 10.5 V17.4" fill="none" stroke="#000" stroke-width="1.05" stroke-linecap="butt" stroke-linejoin="miter"/>
<path d="M21.3 6.2 L22.7 7.8 M20.5 10.5 H22.5 V16 L24.3 14.4 M23.4 7.5 H30.9 M27.5 7.5 V16.5 L25.4 16.3" fill="none" stroke="#000" stroke-width="1.05" stroke-linecap="butt" stroke-linejoin="miter"/>
<path d="M33.6 5.8 L35.1 7.9 M40.6 5.8 L39.1 7.9 M32.5 8.5 H41.5 V12.5 H32.5 Z M32.5 10.5 H41.5 M37 8.5 V17.7 M31 14.5 H43.2" fill="none" stroke="#000" stroke-width="1.05" stroke-linecap="butt" stroke-linejoin="miter"/>
<path d="M163.9 5.6 L163 7.3 M160.5 7.5 H169.5 V17.1 M160.5 7.5 V17.1 M160.5 10.5 H169.5 M160.5 13.5 H169.5 M160.5 16.5 H169.5" fill="none" stroke="#000" stroke-width="1.05" stroke-linecap="butt" stroke-linejoin="miter"/>
<path d="M171.9 7.5 H177 M171.2 10.5 H177.4 M174.5 10.6 L172.3 15.3 L176.8 14.7 M175.7 12.6 L177.1 15.8 M177.2 9 H182.3 M181.7 9 V16.5 L179.6 16.3 M179.5 5.9 Q179.6 13 176.8 16.9" fill="none" stroke="#000" stroke-width="1.05" stroke-linecap="butt" stroke-linejoin="miter"/>
<path d="M188.8 5.7 L189.6 7.5 M183.5 8.5 H195 M186.9 9.9 L184.4 12.7 M191.3 9.9 L193.8 12.7 M191.9 12.2 Q189 15.5 183.5 17.1 M186.1 12.2 Q189 15.7 195 17.1" fill="none" stroke="#000" stroke-width="1.05" stroke-linecap="butt" stroke-linejoin="miter"/>
<path d="M197.5 6.5 H204.5 V10.5 H197.5 Z M197.5 8.5 H204.5 M198 10.6 L195.2 13.6 M197.3 12.2 H205.5 V16 Q205.4 17.1 202.8 16.7 M201.2 12.3 Q199.4 14.7 196.1 15.9 M203.8 12.3 Q202 15.1 198.7 16.9" fill="none" stroke="#000" stroke-width="1.05" stroke-linecap="butt" stroke-linejoin="miter"/>
<polygon points="69.9,12.5 70.9,14.8 65,19.9 64.2,17.6" fill="#e6dc98" stroke="#9a6410" stroke-width="0.8" stroke-linejoin="round"/>
<polygon points="55.2,14.6 56.9,13.2 64.6,17.4 64.2,20.2 62.2,20.4 55.4,15.6" fill="#f2d470" stroke="#a06408" stroke-width="0.9" stroke-linejoin="round"/>
<polygon points="60.5,6.2 69.9,12.5 64.6,17.4 56.8,13.2 58.9,10.6" fill="url(#gold)"/>
<path d="M56.4 13.6 L58.9 10.6 L60.5 6.2 L69.9 12.5 L64.6 17.4" fill="none" stroke="#9a6008" stroke-width="1" stroke-linejoin="round"/>
<path d="M61.4 8 L67.8 12.4" stroke="#fff6a8" stroke-width="1.2" opacity=".75" fill="none"/>
<polygon points="85.2,5.2 92,5.2 96,7.2 96,14 85.2,14" fill="#2a6ae8"/>
<polygon points="88.8,7.4 96,7.4 96,14 88.8,14" fill="#1eaaff"/>
<polygon points="85.2,5.8 88.6,8.2 88.6,14 85.2,14" fill="#0a8cff"/>
<path d="M85.6 6 L88.6 8.2 V13.6" fill="none" stroke="#fff" stroke-width="0.8" opacity=".9"/>
<rect x="90" y="9.7" width="4.8" height="1.2" fill="#fff" opacity=".95"/><rect x="90" y="12" width="4.8" height="1" fill="#e6f4ff" opacity=".9"/>
<path d="M86.4 20.4 C82.4 20.4 82.4 16.2 85.4 16 C85 13.6 88.6 13.4 89.4 14.6 C90.4 12.6 93.4 12.8 94.2 15.2 C95.4 13.8 97.8 14.4 97.4 16.6 C99.4 17 99.2 20.4 96.4 20.4 Z" fill="url(#cloud)" stroke="#485c90" stroke-width="1"/>
<g fill="none"><circle cx="119" cy="13" r="7.3" stroke="#3a66d0" stroke-width="1.1" opacity=".8"/><circle cx="119" cy="13" r="4.7" stroke="#3a66d0" stroke-width="1" opacity=".7"/><circle cx="119" cy="13" r="2.6" stroke="#3a66d0" stroke-width="0.8" opacity=".55"/></g>
<path d="M119 13 L119 20.6 A7.6 7.6 0 0 0 125.6 9.2 Z" fill="#3aa040" opacity=".55"/>
<circle cx="119" cy="12.8" r="1.5" fill="#2050c8"/>
<rect x="118.6" y="13" width="1.2" height="7.8" fill="#18a018"/>
<polygon points="138.3,12 153.4,11 153.9,13.8 147.8,20.8 145,20.8 138.3,13.6" fill="url(#yel)" stroke="#c8a010" stroke-width="0.8" stroke-linejoin="round"/>
<path d="M138.2 10.2 C138.4 7.6 141 8.2 142.4 8.6 C142.2 4.6 149.2 4.6 149.3 8 C151 7.8 153 6.2 154 8 C154.6 10 150 12.3 144.6 12.3 C141 12.3 138 12 138.2 10.2 Z" fill="url(#hat)" stroke="#2486b8" stroke-width="0.8"/>
<path d="M142.4 8.8 C144 10.2 148 10 149.3 8.2" fill="none" stroke="#2a86b8" stroke-width="0.7"/>
<path d="M150.6 9.8 L153 7.9" stroke="#d8f0ff" stroke-width="0.9" opacity=".8"/>
<circle cx="150.5" cy="16.5" r="4" fill="#e22408" stroke="#b01404" stroke-width="0.6"/>
<rect x="149" y="15" width="3" height="3" fill="#fff"/>
<g shape-rendering="crispEdges"><rect x="214" y="0" width="1" height="24" fill="#a0a0a0"/><rect x="215" y="0" width="1" height="24" fill="#fff"/></g>
<g shape-rendering="crispEdges" fill="#a0a0a0"><rect x="218" y="3" width="3" height="1"/><rect x="218" y="5" width="3" height="1"/><rect x="218" y="7" width="3" height="1"/><rect x="218" y="9" width="3" height="1"/><rect x="218" y="11" width="3" height="1"/><rect x="218" y="13" width="3" height="1"/><rect x="218" y="15" width="3" height="1"/><rect x="218" y="17" width="3" height="1"/><rect x="218" y="19" width="3" height="1"/><rect x="218" y="21" width="3" height="1"/></g>
<g shape-rendering="crispEdges" fill="#505050"><rect x="232" y="7" width="1" height="14"/><rect x="231" y="8" width="3" height="1"/><rect x="230" y="18" width="14" height="1"/><rect x="242" y="17" width="1" height="3"/></g>
<g shape-rendering="crispEdges" fill="#0a8a0a"><rect x="238" y="8" width="1" height="9"/><rect x="239" y="9" width="2" height="1"/><rect x="236" y="15" width="2" height="1"/></g>
<g shape-rendering="crispEdges"><rect x="252" y="1" width="25" height="22" fill="url(#chk)"/><rect x="252" y="1" width="25" height="1" fill="#a0a0a0"/><rect x="252" y="1" width="1" height="22" fill="#a0a0a0"/><rect x="276" y="2" width="1" height="21" fill="#fff"/><rect x="253" y="22" width="24" height="1" fill="#fff"/></g>
<g shape-rendering="crispEdges" fill="#505050"><rect x="260" y="7" width="1" height="14"/><rect x="259" y="8" width="3" height="1"/><rect x="258" y="18" width="14" height="1"/><rect x="270" y="17" width="1" height="3"/></g>
<g shape-rendering="crispEdges"><rect x="266" y="5" width="1" height="12" fill="#0a8a0a"/><rect x="264" y="7" width="5" height="8" fill="#0a9a0a"/><rect x="265" y="8" width="3" height="6" fill="url(#grn)"/></g>
<g shape-rendering="crispEdges" fill="#505050"><rect x="288" y="7" width="1" height="14"/><rect x="287" y="8" width="3" height="1"/><rect x="286" y="18" width="14" height="1"/><rect x="298" y="17" width="1" height="3"/></g>
<path d="M287.4 15.8 C290 13 291.6 10.2 293.2 10.4 C295 10.8 296.6 13.6 299 14.4" fill="none" stroke="#2a962a" stroke-width="1.1"/>
<g shape-rendering="crispEdges"><rect x="309" y="2" width="1" height="21" fill="#a0a0a0"/></g>
<line x1="328.2" y1="15.2" x2="332.7" y2="19.6" stroke="#b8860b" stroke-width="3.2" stroke-linecap="round"/>
<line x1="328.4" y1="15.2" x2="332.5" y2="19.3" stroke="#f0d850" stroke-width="1.6" stroke-linecap="round"/>
<circle cx="324" cy="11" r="5.6" fill="url(#lens)" stroke="#2a78c8" stroke-width="1.2"/>
<rect x="321" y="10.2" width="6" height="1.7" fill="#3a86b4"/>
<rect x="323.15" y="8" width="1.7" height="6" fill="#3a86b4"/>
<line x1="356.4" y1="15.2" x2="360.9" y2="19.6" stroke="#b8860b" stroke-width="3.2" stroke-linecap="round"/>
<line x1="356.59999999999997" y1="15.2" x2="360.7" y2="19.3" stroke="#f0d850" stroke-width="1.6" stroke-linecap="round"/>
<circle cx="352.2" cy="11" r="5.6" fill="url(#lens)" stroke="#2a78c8" stroke-width="1.2"/>
<rect x="349.2" y="10.2" width="6" height="1.7" fill="#3a86b4"/>
<rect x="374.2" y="5.2" width="7.8" height="7.8" rx="0.8" fill="url(#tg)"/>
<path d="M375.2 8.0H381.09999999999997V12.2H380.0V11.2H376.3V12.2H375.2Z" fill="#fff"/>
<rect x="375.2" y="6.2" width="1" height="1" fill="#fff" opacity=".8"/>
<rect x="376.59999999999997" y="9.4" width="3.2" height="0.9" fill="#9ad880"/>
<rect x="382.2" y="5.2" width="7.8" height="7.8" rx="0.8" fill="url(#tb)"/>
<path d="M383.2 8.0H389.09999999999997V12.2H388.0V11.2H384.3V12.2H383.2Z" fill="#fff"/>
<rect x="383.2" y="6.2" width="1" height="1" fill="#fff" opacity=".8"/>
<rect x="384.59999999999997" y="9.4" width="3.2" height="0.9" fill="#8ab0f8"/>
<rect x="374.2" y="13.2" width="7.8" height="7.8" rx="0.8" fill="url(#tb)"/>
<path d="M375.2 16.0H381.09999999999997V20.2H380.0V19.2H376.3V20.2H375.2Z" fill="#fff"/>
<rect x="375.2" y="14.2" width="1" height="1" fill="#fff" opacity=".8"/>
<rect x="376.59999999999997" y="17.4" width="3.2" height="0.9" fill="#8ab0f8"/>
<rect x="382.2" y="13.2" width="7.8" height="7.8" rx="0.8" fill="url(#tg)"/>
<path d="M383.2 16.0H389.09999999999997V20.2H388.0V19.2H384.3V20.2H383.2Z" fill="#fff"/>
<rect x="383.2" y="14.2" width="1" height="1" fill="#fff" opacity=".8"/>
<rect x="384.59999999999997" y="17.4" width="3.2" height="0.9" fill="#9ad880"/>
<g shape-rendering="crispEdges"><rect x="399" y="2" width="1" height="21" fill="#a0a0a0"/></g>
<g shape-rendering="crispEdges"><rect x="404" y="1" width="25" height="22" fill="url(#chk)"/><rect x="404" y="1" width="25" height="1" fill="#a0a0a0"/><rect x="404" y="1" width="1" height="22" fill="#a0a0a0"/><rect x="428" y="2" width="1" height="21" fill="#fff"/><rect x="405" y="22" width="24" height="1" fill="#fff"/></g>
<g shape-rendering="crispEdges" fill="#505050"><rect x="412" y="7" width="1" height="14"/><rect x="411" y="8" width="3" height="1"/><rect x="410" y="18" width="14" height="1"/><rect x="422" y="17" width="1" height="3"/></g>
<polygon points="417.4,9.4 420.8,12.4 417.4,15.4" fill="#7cf08a" stroke="#0a9a1a" stroke-width="1" stroke-linejoin="round"/>
<g shape-rendering="crispEdges"><rect x="432" y="1" width="25" height="22" fill="url(#chk)"/><rect x="432" y="1" width="25" height="1" fill="#a0a0a0"/><rect x="432" y="1" width="1" height="22" fill="#a0a0a0"/><rect x="456" y="2" width="1" height="21" fill="#fff"/><rect x="433" y="22" width="24" height="1" fill="#fff"/></g>
<g shape-rendering="crispEdges" fill="#505050"><rect x="440" y="7" width="1" height="14"/><rect x="439" y="8" width="3" height="1"/><rect x="438" y="18" width="14" height="1"/><rect x="450" y="17" width="1" height="3"/></g>
<rect x="446" y="7" width="1" height="10" fill="#1e6fa0" shape-rendering="crispEdges"/>
<path d="M447.4 12.5 H451.8 M447.6 12.5 L449.8 10.6 M447.6 12.5 L449.8 14.4" stroke="#d85008" stroke-width="1.1" fill="none"/>
<g shape-rendering="crispEdges"><rect x="461" y="2" width="1" height="21" fill="#a0a0a0"/></g>
<path d="M471.5 5.5 H479.5 L482.5 8.5 V18.5 H471.5 Z" fill="#fbfbfb" stroke="#8c8c8c" stroke-width="1"/>
<path d="M479.5 5.5 V8.5 H482.5" fill="#e8e8e8" stroke="#8c8c8c" stroke-width="0.8"/>
<path d="M476.6 8.2 C474.6 8.6 474.4 10 474.4 12 V15.6" fill="none" stroke="#5a4a20" stroke-width="0.9"/><path d="M473.6 11.6 H476" stroke="#5a4a20" stroke-width="0.8"/>
<g shape-rendering="crispEdges"><rect x="479" y="11" width="4" height="12" fill="#0a8c14"/><rect x="475" y="15" width="12" height="4" fill="#0a8c14"/><rect x="480" y="12" width="2" height="10" fill="#2ee048"/><rect x="476" y="16" width="10" height="2" fill="#2ee048"/><rect x="480" y="12" width="1" height="5" fill="#8cf89a"/><rect x="476" y="16" width="5" height="1" fill="#8cf89a"/></g>
<g shape-rendering="crispEdges" fill="#000"><rect x="493" y="12" width="5" height="1"/><rect x="494" y="13" width="3" height="1"/><rect x="495" y="14" width="1" height="1"/></g>
<circle cx="517.2" cy="13" r="6.8" fill="#f6f8fb" stroke="url(#clk)" stroke-width="2.4"/><circle cx="517.2" cy="13" r="4.5" fill="none" stroke="#98a2ae" stroke-width="0.9" stroke-dasharray="0.5 1.856"/>
<path d="M516.9 9.6 L517.3 12.9 L519.8 12.6" fill="none" stroke="#202020" stroke-width="1"/>
<rect x="516.4" y="15.6" width="1.6" height="0.8" fill="#5a98e8"/>
<g shape-rendering="crispEdges" fill="#000"><rect x="532" y="12" width="5" height="1"/><rect x="533" y="13" width="3" height="1"/><rect x="534" y="14" width="1" height="1"/></g>
<rect x="548.5" y="6.5" width="15" height="13" rx="0.8" fill="#fff" stroke="#2f6fc0" stroke-width="1.2"/>
<rect x="549" y="7" width="14" height="2.4" fill="#4a90e0"/><rect x="549.5" y="7.4" width="5" height="0.8" fill="#cfe6ff"/>
<rect x="549" y="14" width="14" height="0.9" fill="#7aa6dc"/>
<path d="M550.4 12.4 H552.4 L554 11.2 L555.6 10.4 L557.4 11.4 H559.6 L561.6 10.4" fill="none" stroke="#a02810" stroke-width="1.2"/>
<path d="M551 17.4 H553 L554.4 16.6 L556 17.6 L557.6 16.6 L559 15.4 L560.4 16.4 L561.8 17.6" fill="none" stroke="#108a20" stroke-width="1.2"/>
<g shape-rendering="crispEdges" fill="#000"><rect x="571" y="12" width="5" height="1"/><rect x="572" y="13" width="3" height="1"/><rect x="573" y="14" width="1" height="1"/></g>
<g shape-rendering="crispEdges"><rect x="582" y="0" width="1" height="24" fill="#a0a0a0"/><rect x="583" y="0" width="1" height="24" fill="#fff"/></g>
<g shape-rendering="crispEdges" fill="#a0a0a0"><rect x="586" y="3" width="3" height="1"/><rect x="586" y="5" width="3" height="1"/><rect x="586" y="7" width="3" height="1"/><rect x="586" y="9" width="3" height="1"/><rect x="586" y="11" width="3" height="1"/><rect x="586" y="13" width="3" height="1"/><rect x="586" y="15" width="3" height="1"/><rect x="586" y="17" width="3" height="1"/><rect x="586" y="19" width="3" height="1"/><rect x="586" y="21" width="3" height="1"/></g>
<g shape-rendering="crispEdges"><rect x="592" y="1" width="25" height="22" fill="url(#chk)"/><rect x="592" y="1" width="25" height="1" fill="#a0a0a0"/><rect x="592" y="1" width="1" height="22" fill="#a0a0a0"/><rect x="616" y="2" width="1" height="21" fill="#fff"/><rect x="593" y="22" width="24" height="1" fill="#fff"/></g>
<polygon points="600,5.8 600,17.2 602.8,14.6 605,19.9 607,19.1 604.8,13.9 608.4,13.6" fill="#505050"/>
<g shape-rendering="crispEdges" fill="#404040"><rect x="632" y="6" width="1" height="6"/><rect x="632" y="15" width="1" height="6"/><rect x="625" y="13" width="6" height="1"/><rect x="634" y="13" width="6" height="1"/><rect x="632" y="13" width="1" height="1" fill="#7a6a20"/></g>
<g shape-rendering="crispEdges"><rect x="649" y="2" width="1" height="21" fill="#a0a0a0"/></g>
<g shape-rendering="crispEdges" fill="#404040"><rect x="666" y="7" width="1" height="13"/><rect x="689" y="13" width="12" height="1"/></g>
<line x1="716.8" y1="19.6" x2="729.2" y2="7.8" stroke="#505050" stroke-width="1.1"/>
<g stroke="#303030" stroke-width="1.15" fill="none"><line x1="743" y1="14.6" x2="751" y2="7"/><line x1="748" y1="20" x2="757" y2="11.4"/><line x1="744" y1="18.6" x2="755.8" y2="6"/><path d="M746.4 12.2 L745.6 19 M749.4 9.8 L748.8 17.2 M752.6 7.6 L752 14.6 M754.8 5.2 L755.4 11.6" stroke-width="1.1"/></g>
<path d="M754.5 17.5 V22 H758 M754.5 17.5 H758 M754.5 19.7 H757.4" fill="none" stroke="#303030" stroke-width="1.1"/>
<g stroke="#505050" stroke-width="1" stroke-dasharray="1 1" shape-rendering="crispEdges"><line x1="772" y1="6.5" x2="785" y2="6.5"/><line x1="772" y1="9.5" x2="785" y2="9.5"/><line x1="772" y1="13.5" x2="785" y2="13.5"/><line x1="772" y1="17.5" x2="781" y2="17.5"/></g>
<path d="M782.5 22 V17.5 H786 M782.5 19.7 H785.4" fill="none" stroke="#303030" stroke-width="1.1"/>
<path d="M803.2 17.7 L806.7 9.2 L810.2 17.7 M804.6 14.7 H808.8" fill="none" stroke="#4a4a4a" stroke-width="1.35" stroke-linejoin="miter"/>
<rect x="829.5" y="7.5" width="11" height="12" fill="none" stroke="#505050" stroke-width="1" stroke-dasharray="1 1" shape-rendering="crispEdges"/>
<path d="M831 10.6 H838.8 M834.9 10.6 V17.8" fill="none" stroke="#505050" stroke-width="1.3"/>
<rect x="828.6" y="6.6" width="1.6" height="1.2" fill="#404040"/>
<polygon points="859.6,6.8 863.2,10 859.6,12 856.2,10" fill="#505050"/>
<polygon points="866.6,19.8 870.2,16.4 866.6,14.6 863,16.4" fill="#505050"/>
<path d="M858.4 14.4 L860.6 16.4 L865 11" fill="none" stroke="#505050" stroke-width="1.3"/>
<g shape-rendering="crispEdges" fill="#000"><rect x="877" y="12" width="5" height="1"/><rect x="878" y="13" width="3" height="1"/><rect x="879" y="14" width="1" height="1"/></g>
<g shape-rendering="crispEdges"><rect x="888" y="0" width="1" height="24" fill="#a0a0a0"/><rect x="889" y="0" width="1" height="24" fill="#fff"/></g>
<g shape-rendering="crispEdges" fill="#a0a0a0"><rect x="892" y="3" width="3" height="1"/><rect x="892" y="5" width="3" height="1"/><rect x="892" y="7" width="3" height="1"/><rect x="892" y="9" width="3" height="1"/><rect x="892" y="11" width="3" height="1"/><rect x="892" y="13" width="3" height="1"/><rect x="892" y="15" width="3" height="1"/><rect x="892" y="17" width="3" height="1"/><rect x="892" y="19" width="3" height="1"/><rect x="892" y="21" width="3" height="1"/></g>
<g shape-rendering="crispEdges"><rect x="1038" y="1" width="25" height="22" fill="url(#chk)"/><rect x="1038" y="1" width="25" height="1" fill="#a0a0a0"/><rect x="1038" y="1" width="1" height="22" fill="#a0a0a0"/><rect x="1062" y="2" width="1" height="21" fill="#fff"/><rect x="1039" y="22" width="24" height="1" fill="#fff"/></g>
<g font-family="Liberation Sans, sans-serif" font-size="9.8" fill="#2a2a2a">
<text x="903.4" y="16.6" textLength="13" lengthAdjust="spacingAndGlyphs">M1</text>
<text x="931.6" y="16.6" textLength="13" lengthAdjust="spacingAndGlyphs">M5</text>
<text x="957.4" y="16.6" textLength="18.2" lengthAdjust="spacingAndGlyphs">M15</text>
<text x="985.6" y="16.6" textLength="17.8" lengthAdjust="spacingAndGlyphs">M30</text>
<text x="1016.6" y="16.6" textLength="12" lengthAdjust="spacingAndGlyphs">H1</text>
<text x="1043.5" y="16.6" textLength="12.6" lengthAdjust="spacingAndGlyphs">H4</text>
<text x="1072.6" y="16.6" textLength="12" lengthAdjust="spacingAndGlyphs">D1</text>
<text x="1100" y="16.6" textLength="15" lengthAdjust="spacingAndGlyphs">W1</text>
<text x="1126.6" y="16.6" textLength="15" lengthAdjust="spacingAndGlyphs">MN</text>
</g>
<g shape-rendering="crispEdges"><rect x="1149" y="0" width="1" height="24" fill="#a0a0a0"/><rect x="1150" y="0" width="1" height="24" fill="#fff"/></g>
<line x1="1616.6" y1="13.4" x2="1612" y2="17.8" stroke="#1e58c8" stroke-width="2.6" stroke-linecap="round"/>
<line x1="1616" y1="14" x2="1612.4" y2="17.4" stroke="#7aa4f0" stroke-width="0.7" stroke-dasharray="0.8 0.8"/>
<circle cx="1619.6" cy="10.4" r="4" fill="#fbfbff" stroke="#2a62d8" stroke-width="1.3"/>
<ellipse cx="1642" cy="21.6" rx="6" ry="0.9" fill="#b8b8b8" opacity=".6"/>
<path d="M1637 14 C1637 9 1649 9 1649 15 C1649 19 1644 19.4 1641.4 19.2 L1639.6 21.4 L1639.6 18.8 C1637.6 18 1637 16 1637 14 Z" fill="#e4e8f2" stroke="#b0b0b0" stroke-width="1"/>
<circle cx="1650.5" cy="10.3" r="8.2" fill="url(#badge)"/>
<path d="M1647.4 8.2 L1649.8 6.4 H1650.8 V14 M1647.4 14.3 H1652.6" fill="none" stroke="#fff" stroke-width="1.3"/>
</svg>
</body></html>
